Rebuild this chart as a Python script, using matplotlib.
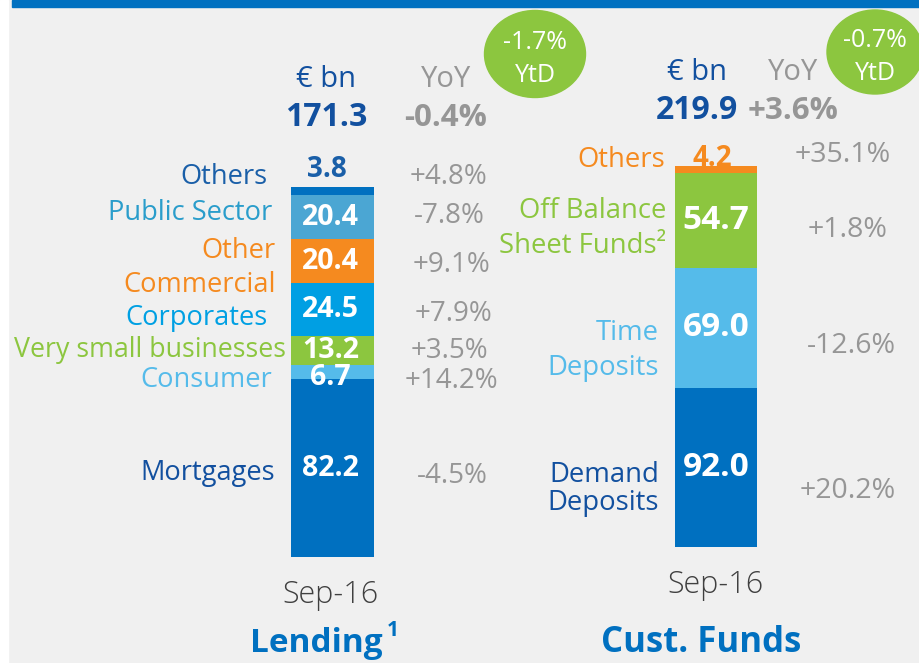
import numpy as np
import matplotlib.pyplot as plt
from matplotlib.patches import Ellipse, Rectangle

plt.rcParams['font.family'] = ['Open Sans', 'DejaVu Sans']

# lending, bottom to top
lend_names = ['Mortgages', 'Consumer', 'Very small businesses', 'Corporates',
              'Other Commercial', 'Public Sector', 'Others']
lend_vals = [82.2, 6.7, 13.2, 24.5, 20.4, 20.4, 3.8]
lend_yoy = ['-4.5%', '+14.2%', '+3.5%', '+7.9%', '+9.1%', '-7.8%', '+4.8%']
lend_total = '171.3'
lend_total_yoy = '-0.4%'
lend_ytd = '-1.7%'

# customer funds, bottom to top
fund_names = ['Demand Deposits', 'Time Deposits', 'Off Balance Sheet Funds²', 'Others']
fund_vals = [92.0, 69.0, 54.7, 4.2]
fund_yoy = ['+20.2%', '-12.6%', '+1.8%', '+35.1%']
fund_total = '219.9'
fund_total_yoy = '+3.6%'
fund_ytd = '-0.7%'

period = 'Sep-16'

BLUE = '#0070c0'
DARK = '#12509f'
GREY = '#969696'
GREEN = '#8cc63f'
ORANGE = '#f58a1f'
lend_colors = [BLUE, '#55bbea', GREEN, '#009fe3', ORANGE, '#4ba6d3', BLUE]
fund_colors = [BLUE, '#55bbea', GREEN, ORANGE]

W, H = 920, 663
fig = plt.figure(figsize=(W / 100, H / 100), dpi=100, facecolor='#f0f0f0')


def px(x, y):
    return x / W, 1 - y / H


def txt(x, y, s, size, color, ha='center', weight='normal'):
    fig.text(*px(x, y), s, fontsize=size, color=color, ha=ha, va='baseline',
             fontweight=weight)


# frame decoration
fig.patches.append(Rectangle((0, 0), 8 / W, 1, transform=fig.transFigure,
                             color='white', zorder=0))
fig.patches.append(Rectangle(px(12, 7), 1, 7 / H, transform=fig.transFigure,
                             color=BLUE, zorder=0))


def stacked(ax, vals, colors):
    bottoms = np.concatenate([[0], np.cumsum(vals)[:-1]])
    ax.bar(0, vals, width=1, bottom=bottoms, color=colors, linewidth=0)
    ax.set_xlim(-0.5, 0.5)
    ax.set_ylim(0, sum(vals))
    ax.axis('off')
    return bottoms


ax1 = fig.add_axes([291 / W, (H - 557) / H, 83 / W, 370 / H])
b1 = stacked(ax1, lend_vals, lend_colors)
for i in range(6):
    dy = -5 if i == 1 else 0
    ax1.annotate(f'{lend_vals[i]:.1f}', (0, b1[i] + lend_vals[i] / 2),
                 xytext=(-2, dy), textcoords='offset pixels',
                 ha='center', va='center', color='white', fontsize=20.5,
                 fontweight='bold')

ax2 = fig.add_axes([675 / W, (H - 547) / H, 82 / W, 381 / H])
b2 = stacked(ax2, fund_vals, fund_colors)
for i in range(3):
    ax2.annotate(f'{fund_vals[i]:.1f}', (0, b2[i] + fund_vals[i] / 2),
                 xytext=(0, 0), textcoords='offset pixels',
                 ha='center', va='center', color='white', fontsize=24,
                 fontweight='bold')

# top small segments labelled above the bars
txt(327, 177, f'{lend_vals[6]:.1f}', 20, '#1a5fa8', weight='bold')
txt(712, 166, f'{fund_vals[3]:.1f}', 20, ORANGE, weight='bold')

# headers
for cx, yx, tot, ty, yb in [(326, 446, lend_total, lend_total_yoy, 0),
                            (697, 793, fund_total, fund_total_yoy, -7)]:
    txt(cx, 87 + yb, '€ bn', 21, DARK)
    txt(cx, 126 + yb, tot, 23, DARK, weight='bold')
    txt(yx, 87 + yb, 'YoY', 21, GREY)
    txt(yx, 126 + yb, ty, 22.5, GREY, weight='bold')

for cx, cy, w, h, ytd in [(535, 54, 101, 87, lend_ytd), (875, 52, 96, 84, fund_ytd)]:
    fig.patches.append(Ellipse(px(cx, cy), w / W, h / H, transform=fig.transFigure,
                               color=GREEN, zorder=1))
    txt(cx, cy - 5, ytd, 18, 'white')
    txt(cx, cy + 28, 'YtD', 18, 'white')

# lending category labels
lend_label_pos = {
    'Others': (268, 184, '#1a5fa8', 19.6),
    'Public Sector': (272, 220, '#2a9dcb', 19.6),
    'Other\nCommercial': (276, 258, ORANGE, 19.6),
    'Corporates': (268, 325, '#00a0e3', 19.6),
    'Very small businesses': (286, 357, GREEN, 19.3),
    'Consumer': (272, 387, '#55bbea', 19.6),
    'Mortgages': (275, 480, DARK, 19.6),
}
for s, (x, y, c, fs) in lend_label_pos.items():
    lines = s.split('\n')
    for k, line in enumerate(lines):
        txt(x, y + 34 * k, line, fs, c, ha='right')

lend_yoy_pos = [(452, 483), (451, 388), (449, 358), (454, 321),
                (452, 272), (449, 223), (449, 184)]
for s, (x, y) in zip(lend_yoy, lend_yoy_pos):
    txt(x, y, s, 20, GREY)

fund_label_pos = [
    ('Demand\nDeposits', 659, 482, DARK, 28),
    ('Time\nDeposits', 659, 340, '#55bbea', 35),
    ('Off Balance\nSheet Funds²', 666, 218, GREEN, 35),
    ('Others', 665, 167, ORANGE, 0),
]
for s, x, y, c, gap in fund_label_pos:
    for k, line in enumerate(s.split('\n')):
        txt(x, y + gap * k, line, 19.8, c, ha='right')

fund_yoy_pos = [(848, 498), (851, 353), (848, 237), (843, 162)]
for s, (x, y) in zip(fund_yoy, fund_yoy_pos):
    txt(x, y, s, 20.5, GREY)

# footers
txt(331, 603, period, 22, '#404040', weight='light')
txt(716, 593, period, 22, '#404040', weight='light')
txt(250, 652, 'Lending', 24, BLUE, ha='left', weight='bold')
txt(387, 636, '1', 15, BLUE, ha='left', weight='bold')
txt(701, 652, 'Cust. Funds', 25, BLUE, weight='bold')

fig.savefig('out.png', dpi=100, facecolor=fig.get_facecolor())
